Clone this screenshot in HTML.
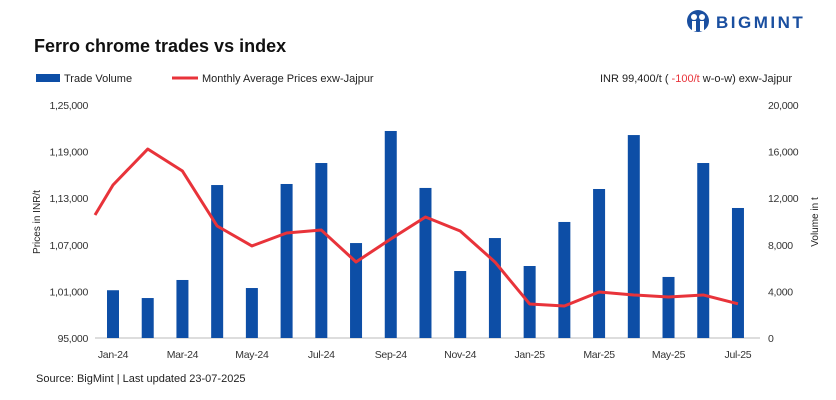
<!DOCTYPE html>
<html><head><meta charset="utf-8"><style>
body{margin:0;background:#fff;font-family:"Liberation Sans",sans-serif;}
#wrap{position:relative;width:836px;height:400px;overflow:hidden;}
</style></head><body>
<div id="wrap">
<svg id="svg" width="836" height="400" xmlns="http://www.w3.org/2000/svg">
  <g>
    <circle cx="698" cy="21" r="11" fill="#1a4fa0"/>
    <circle cx="694" cy="17" r="3" fill="#fff"/><circle cx="702" cy="17" r="3" fill="#fff"/>
    <rect x="692" y="21" width="4" height="10" fill="#fff"/><rect x="700" y="21" width="4" height="10" fill="#fff"/>
    <text x="716" y="28" font-size="17" font-weight="bold" fill="#1a4fa0" letter-spacing="2.5">BIGMINT</text>
  </g>
  <text x="34" y="52" font-size="18" font-weight="bold" fill="#111">Ferro chrome trades vs index</text>
  <g>
    <rect x="36" y="74" width="24" height="8" fill="#0d4ea6"/>
    <text x="64" y="82" font-size="11" fill="#222">Trade Volume</text>
    <line x1="172" y1="78" x2="198" y2="78" stroke="#e8333a" stroke-width="3"/>
    <text x="202" y="82" font-size="11" fill="#222">Monthly Average Prices exw-Jajpur</text>
  </g>
  <text x="600" y="82" font-size="11" fill="#222">INR 99,400/t ( <tspan fill="#e8333a">-100/t</tspan> w-o-w) exw-Jajpur</text>
  <text transform="translate(40,222) rotate(-90)" text-anchor="middle" font-size="10" fill="#222">Prices in INR/t</text>
  <text transform="translate(818,222) rotate(-90)" text-anchor="middle" font-size="10" fill="#222">Volume in t</text>
  <text x="36" y="382" font-size="11" fill="#222">Source: BigMint  |  Last updated 23-07-2025</text>
  <line x1="95" y1="338" x2="760" y2="338" stroke="#bbb"/>
  <g id="bars"></g><g id="ticks"></g>
</svg>
</div>
<script>
const months=["Jan-24","Feb-24","Mar-24","Apr-24","May-24","Jun-24","Jul-24","Aug-24","Sep-24","Oct-24","Nov-24","Dec-24","Jan-25","Feb-25","Mar-25","Apr-25","May-25","Jun-25","Jul-25"];
const volumes=[4100,3430,4980,13130,4290,13220,15020,8150,17770,12880,5750,8580,6180,9960,12790,17420,5240,15020,11160];
const prices=[114700,119330,116500,109420,106850,108520,108900,104790,107750,110580,108780,104790,99380,99120,100920,100540,100280,100540,99400];
const priceStart=110840;
const leftTicks=[95000,101000,107000,113000,119000,125000];
const leftTickLabels=["95,000","1,01,000","1,07,000","1,13,000","1,19,000","1,25,000"];
const rightTicks=[0,4000,8000,12000,16000,20000];
const rightTickLabels=["0","4,000","8,000","12,000","16,000","20,000"];
const xLabelIdx=[0,2,4,6,8,10,12,14,16,18];

const NS="http://www.w3.org/2000/svg";
const x0=113,step=34.72,yTop=105,yBot=338;
const xs=i=>x0+i*step;
const yL=v=>yBot-(v-95000)/30000*(yBot-yTop);
const yR=v=>yBot-v/20000*(yBot-yTop);
function mk(t,a,p){const e=document.createElementNS(NS,t);for(const k in a)e.setAttribute(k,a[k]);p.appendChild(e);return e;}
const svgEl=document.getElementById('svg'),barsG=document.getElementById('bars'),ticksG=document.getElementById('ticks');
volumes.forEach((v,i)=>{
  const r=mk('rect',{x:xs(i)-6,y:yR(v),width:12,height:yBot-yR(v),fill:'#0d4ea6'},barsG);
  
  
});
let d='M95,'+yL(priceStart);
prices.forEach((p,i)=>{d+=' L'+xs(i)+','+yL(p);});
const line=mk('path',{d:d,fill:'none',stroke:'#e8333a','stroke-width':3,'stroke-linejoin':'round'},svgEl);


leftTicks.forEach((v,i)=>{
  const t=mk('text',{x:88,y:yL(v)+4,'text-anchor':'end','font-size':10.5,'letter-spacing':'-0.3',fill:'#333'},ticksG);
  t.textContent=leftTickLabels[i];
  
  
});
rightTicks.forEach((v,i)=>{
  const t=mk('text',{x:768,y:yR(v)+4,'font-size':10.5,'letter-spacing':'-0.3',fill:'#333'},ticksG);
  t.textContent=rightTickLabels[i];
  
  
});
xLabelIdx.forEach(i=>{
  const t=mk('text',{x:xs(i),y:358,'text-anchor':'middle','font-size':10.5,'letter-spacing':'-0.3',fill:'#333'},ticksG);
  t.textContent=months[i];
  
  
});
</script>
</body></html>
